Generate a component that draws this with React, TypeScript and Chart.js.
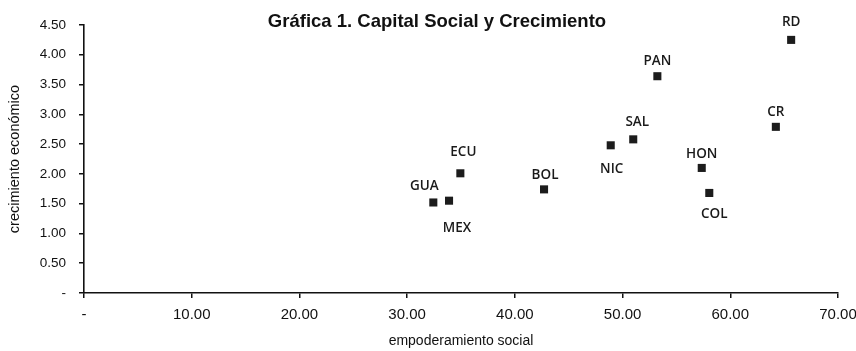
import React, { useEffect, useRef } from "react";
import { Chart, registerables } from "chart.js";

Chart.register(...registerables);

const countries = ["GUA", "MEX", "ECU", "BOL", "NIC", "SAL", "PAN", "HON", "COL", "CR", "RD"];
const empoderamiento = [32.43, 33.89, 34.94, 42.71, 48.9, 50.99, 53.23, 57.35, 58.05, 64.23, 65.65];
const crecimiento = [1.52, 1.55, 2.01, 1.74, 2.48, 2.58, 3.64, 2.1, 1.68, 2.79, 4.25];

const chartTitle = "Gráfica 1. Capital Social y Crecimiento";
const xTitle = "empoderamiento social";
const yTitle = "crecimiento económico";

// label placement relative to each marker (styling)
const labelOffsets: Record<string, [number, number]> = {
  GUA: [-9, -16],
  MEX: [8, 27],
  ECU: [3, -21],
  BOL: [1, -14],
  NIC: [1, 24],
  SAL: [4, -17],
  PAN: [0, -15],
  HON: [0, -14],
  COL: [5, 21],
  CR: [0, -15],
  RD: [0, -18],
};

const fmt = (v: number) => (v === 0 ? "-" : Number(v).toFixed(2));

const labelPlugin = {
  id: "pointLabels",
  afterDatasetsDraw(chart: any) {
    const ctx = chart.ctx;
    const meta = chart.getDatasetMeta(0);
    ctx.save();
    ctx.font = "600 13.5px 'Open Sans'";
    ctx.fillStyle = "#1a1a1a";
    ctx.textAlign = "center";
    ctx.textBaseline = "middle";
    meta.data.forEach((el: any, i: number) => {
      const name = countries[i];
      const off = labelOffsets[name] || [0, -15];
      ctx.fillText(name, el.x + off[0], el.y + off[1]);
    });
    ctx.restore();
  },
};

const titlePlugin = {
  id: "topTitle",
  afterDraw(chart: any) {
    const ctx = chart.ctx;
    ctx.save();
    ctx.font = "bold 18.5px 'Liberation Sans', Arial, sans-serif";
    ctx.fillStyle = "#111";
    ctx.textAlign = "center";
    ctx.textBaseline = "alphabetic";
    ctx.fillText(chartTitle, 437, 27);
    ctx.restore();
  },
};

export default function App() {
  const ref = useRef<HTMLCanvasElement | null>(null);
  useEffect(() => {
    if (!ref.current) return;
    const chart = new Chart(ref.current, {
      type: "scatter",
      data: {
        datasets: [
          {
            label: "países",
            data: empoderamiento.map((x, i) => ({ x, y: crecimiento[i] })),
            pointStyle: "rect",
            pointRadius: 5.7,
            pointHoverRadius: 5.7,
            backgroundColor: "#1c1c1c",
            borderColor: "#1c1c1c",
            borderWidth: 0,
          },
        ],
      },
      options: {
        responsive: false,
        animation: false,
        events: [],
        layout: { padding: { left: 0, right: 18, top: 25, bottom: 0 } },
        plugins: {
          legend: { display: false },
          tooltip: { enabled: false },
          title: { display: false },
        },
        scales: {
          x: {
            type: "linear",
            min: 0,
            max: 70,
            afterFit: (s: any) => {
              s.height = 58;
              s.paddingLeft = 0;
              s.paddingRight = 0;
            },
            border: { color: "#111", width: 1.6 },
            grid: { drawOnChartArea: false, tickLength: 5, color: "#111", lineWidth: 1.5 },
            ticks: {
              stepSize: 10,
              padding: 8,
              color: "#111",
              font: { family: "'Liberation Sans', Arial, sans-serif", size: 15 },
              callback: (v: any) => fmt(Number(v)),
            },
            title: {
              display: true,
              text: xTitle,
              color: "#111",
              font: { family: "'Liberation Sans', Arial, sans-serif", size: 14 },
              padding: { top: 0, bottom: 1 },
            },
          },
          y: {
            type: "linear",
            min: 0,
            max: 4.5,
            afterFit: (s: any) => {
              s.width = 84;
              s.paddingTop = 0;
              s.paddingBottom = 0;
            },
            border: { color: "#111", width: 1.6 },
            grid: { drawOnChartArea: false, tickLength: 5, color: "#111", lineWidth: 1.5 },
            ticks: {
              stepSize: 0.5,
              padding: 13,
              color: "#111",
              font: { family: "'Liberation Sans', Arial, sans-serif", size: 13.5 },
              callback: (v: any) => fmt(Number(v)),
            },
            title: {
              display: true,
              text: yTitle,
              color: "#111",
              font: { family: "'Liberation Sans', Arial, sans-serif", size: 14.5 },
              padding: { top: 6, bottom: 0 },
            },
          },
        },
      },
      plugins: [labelPlugin, titlePlugin],
    });
    return () => chart.destroy();
  }, []);
  return (
    <div style={{ position: "absolute", left: 0, top: 0, width: 856, height: 351, background: "#fff" }}>
      <canvas ref={ref} width={856} height={351} style={{ display: "block" }} />
    </div>
  );
}
